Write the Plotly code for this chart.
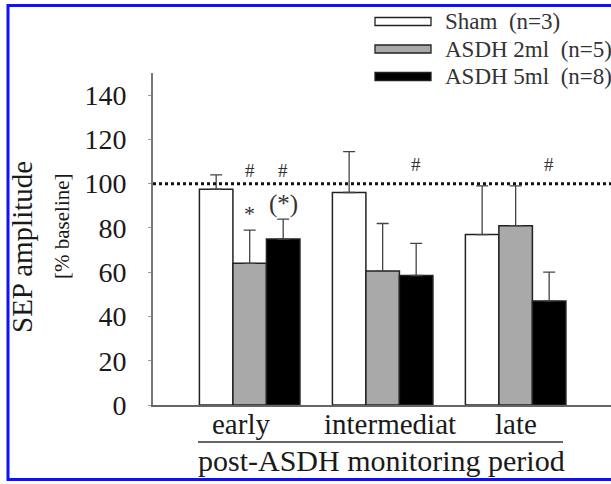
import plotly.graph_objects as go

# ---------------- data ----------------
periods = ["early", "intermediat", "late"]
series_names = ["Sham\u00a0\u00a0(n=3)", "ASDH 2ml\u00a0\u00a0(n=5)", "ASDH 5ml\u00a0\u00a0(n=8)"]
sham_vals = [97.5, 96.0, 77.0]
sham_err = [6.5, 18.5, 22.0]
asdh2_vals = [64.0, 60.5, 81.0]
asdh2_err = [15.0, 21.5, 18.0]
asdh5_vals = [75.0, 58.5, 47.0]
asdh5_err = [9.0, 14.5, 13.0]
baseline = 100
y_ticks = [0, 20, 40, 60, 80, 100, 120, 140]

# significance marks: (period index, series index, text, y value, font size)
sig_marks = [
    (0, 1, "#", 106, 19), (0, 2, "#", 106, 19),
    (1, 2, "#", 108.5, 19), (2, 2, "#", 108.5, 19),
    (0, 1, "*", 86.5, 22), (0, 2, "(*)", 91, 25),
]

# ---------------- styling ----------------
FONT = "Liberation Serif, Times New Roman, Times, serif"
TXT = "#1a1a1a"
fills = ["#ffffff", "#a9a9a9", "#000000"]
W, H = 611, 484
L, R, T, B = 153, 0, 73, 79
PW, PH = W - L - R, H - T - B


def px(xp):
    return (xp - L) / PW


def py(yp):
    return (H - B - yp) / PH


fig = go.Figure()
for name, vals, err, fill in zip(series_names,
                                 [sham_vals, asdh2_vals, asdh5_vals],
                                 [sham_err, asdh2_err, asdh5_err], fills):
    fig.add_trace(go.Bar(
        x=periods, y=vals, name=name,
        marker=dict(color=fill, line=dict(color="#222222", width=1.5)),
        error_y=dict(type="data", symmetric=False, array=err,
                     arrayminus=[0] * len(err), color="#444444",
                     thickness=1.3, width=6),
        showlegend=False,
    ))

bar_w = (1 - 0.244) / 3
annotations = []
for pi, si, txt, yv, fs in sig_marks:
    annotations.append(dict(
        x=pi + (si - 1) * bar_w, y=yv, xref="x", yref="y", text=txt,
        showarrow=False, font=dict(family=FONT, size=fs, color="#333333"),
        xanchor="center", yanchor="middle"))

# category labels (placed as text below the axis)
label_shift = [-9, 7, 0]
for i, (lab, sh) in enumerate(zip(periods, label_shift)):
    annotations.append(dict(x=i, y=py(424), xref="x", yref="paper",
                            text=lab, showarrow=False, xshift=sh,
                            font=dict(family=FONT, size=29, color=TXT),
                            xanchor="center", yanchor="middle"))

# y-axis titles
annotations.append(dict(x=px(22), y=py(247), xref="paper", yref="paper",
                        text="SEP amplitude", textangle=-90, showarrow=False,
                        font=dict(family=FONT, size=29, color=TXT),
                        xanchor="center", yanchor="middle"))
annotations.append(dict(x=px(62), y=py(226), xref="paper", yref="paper",
                        text="[% baseline]", textangle=-90, showarrow=False,
                        font=dict(family=FONT, size=21, color=TXT),
                        xanchor="center", yanchor="middle"))
# x-axis title
annotations.append(dict(x=px(381), y=py(461), xref="paper", yref="paper",
                        text="post-ASDH monitoring period", showarrow=False,
                        font=dict(family=FONT, size=30, color=TXT),
                        xanchor="center", yanchor="middle"))

# manual legend
shapes = []
leg_y = [21.5, 49, 76.5]
for name, fill, yc in zip(series_names, fills, leg_y):
    shapes.append(dict(type="rect", xref="paper", yref="paper",
                       x0=px(375), x1=px(431), y0=py(yc + 4), y1=py(yc - 4),
                       fillcolor=fill, line=dict(color="#222222", width=1.3)))
    annotations.append(dict(x=px(443), y=py(yc), xref="paper", yref="paper",
                            text=name, showarrow=False,
                            font=dict(family=FONT, size=23, color="#333333"),
                            xanchor="left", yanchor="middle"))

# baseline dotted line
shapes.append(dict(type="line", xref="paper", yref="y", x0=0, x1=1,
                   y0=baseline, y1=baseline,
                   line=dict(color="#111111", width=3, dash="dot")))
# underline between category labels and title
shapes.append(dict(type="line", xref="paper", yref="paper",
                   x0=px(198), x1=px(563), y0=py(442), y1=py(442),
                   line=dict(color="#333333", width=1.5)))
# blue frame
shapes.append(dict(type="rect", xref="paper", yref="paper",
                   x0=px(8), x1=px(625), y0=py(479.5), y1=py(5.5),
                   line=dict(color="#1010ff", width=3)))

fig.update_layout(
    width=W, height=H, autosize=False,
    margin=dict(l=L, r=R, t=T, b=B, pad=0),
    paper_bgcolor="white", plot_bgcolor="white",
    barmode="group", bargap=0.244, bargroupgap=0,
    font=dict(family=FONT, color=TXT),
    annotations=annotations, shapes=shapes,
    xaxis=dict(range=[-0.727, 2.717], showline=True, linecolor="#666666",
               linewidth=2, ticks="", showgrid=False, zeroline=False,
               showticklabels=False),
    yaxis=dict(range=[0, 150], tickvals=y_ticks, showline=True,
               linecolor="#777777", linewidth=2, ticks="outside", ticklen=3,
               tickcolor="#999999", showgrid=False, zeroline=False,
               tickfont=dict(family=FONT, size=28, color=TXT),
               ticklabelstandoff=16),
)

fig.write_html("out.html",
               config={"displayModeBar": False},
               post_script="document.body.style.margin='0px';"
                           "document.body.style.overflow='hidden';")
